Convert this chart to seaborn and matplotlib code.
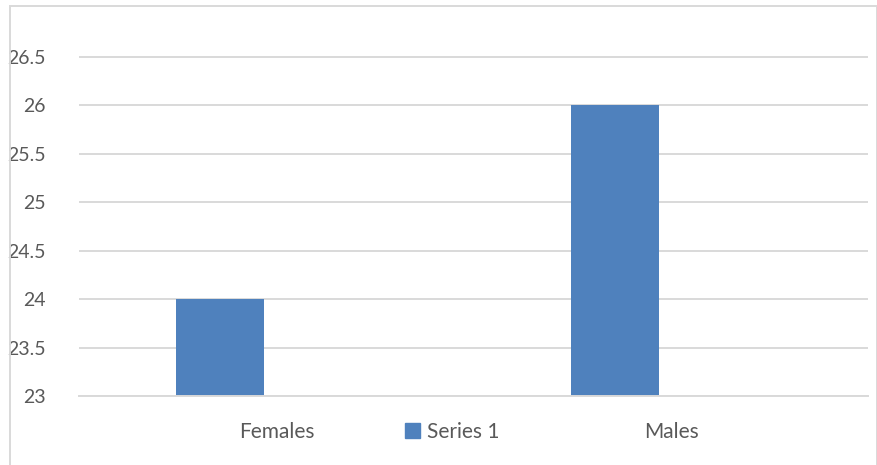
import matplotlib
matplotlib.use("Agg")
import matplotlib.pyplot as plt
from matplotlib.patches import Rectangle
import seaborn as sns
import pandas as pd

categories = ["Females", "Males"]
values = [24, 26]
series_name = "Series 1"
y_ticks = [23, 23.5, 24, 24.5, 25, 25.5, 26, 26.5]
y_tick_labels = ["23", "23.5", "24", "24.5", "25", "25.5", "26", "26.5"]

sns.set_theme(style="white")
plt.rcParams["font.family"] = ["Lato", "DejaVu Sans"]

bar_color = "#4F81BD"
grid_color = "#D9D9D9"
text_color = "#595959"

df = pd.DataFrame({"category": categories, "value": values, "series": series_name})

fig = plt.figure(figsize=(8.78, 4.65), dpi=100)
ax = fig.add_axes([79 / 878, 1 - 396 / 465, (868 - 79) / 878, (396 - 20) / 465])

sns.barplot(data=df, x="category", y="value", hue="series", palette=[bar_color],
            saturation=1, width=0.223, ax=ax, legend=False, bottom=0,
            edgecolor="none", linewidth=0)

ax.set_ylim(23, 26.88)
ax.set_xlim(-0.357, 1.641)
ax.set_yticks(y_ticks)
ax.set_yticklabels(y_tick_labels)
ax.yaxis.grid(True, color=grid_color, linewidth=1.4)
ax.set_axisbelow(True)
for side in ["top", "left", "right"]:
    ax.spines[side].set_visible(False)
ax.spines["bottom"].set_color(grid_color)
ax.spines["bottom"].set_linewidth(1.4)

# category labels sit at the cluster centre, right of the single series bar
ax.set_xticks([0.144, 1.144])
ax.set_xticklabels(categories)
ax.tick_params(axis="both", length=0, labelcolor=text_color)
ax.tick_params(axis="x", labelsize=15, pad=19)
ax.tick_params(axis="y", labelsize=14, pad=24)
ax.set_xlabel("")
ax.set_ylabel("")

handle = Rectangle((0, 0), 1, 1, color=bar_color)
fig.legend([handle], [series_name], loc="center", bbox_to_anchor=(452 / 878, 1 - 432 / 465),
           frameon=False, fontsize=15, labelcolor=text_color, handlelength=0.75,
           handleheight=0.75, handletextpad=0.3)

# chart area border
fig.patches.append(Rectangle((10 / 878, -0.05), (877 - 10) / 878, 1.05 - 6 / 465,
                             transform=fig.transFigure, fill=False,
                             edgecolor=grid_color, linewidth=1.4))

fig.savefig("out.png", dpi=100)
